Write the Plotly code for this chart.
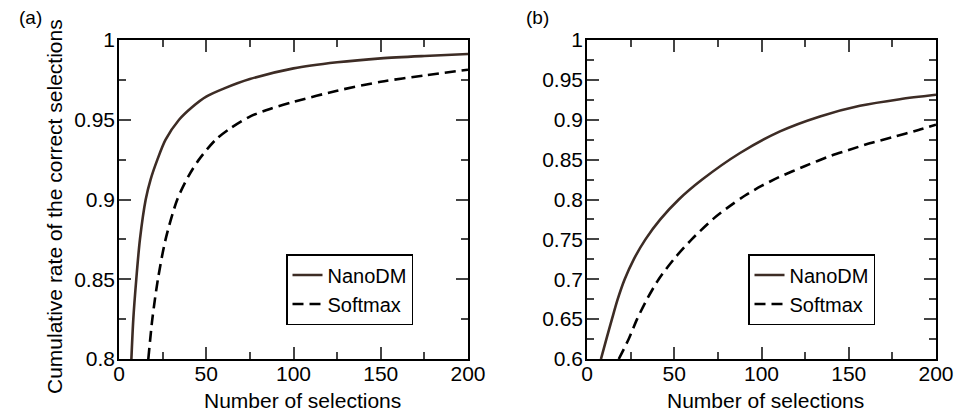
import plotly.graph_objects as go

# ---- data ----
a_nano_x = [7.1, 8.2, 9.9, 12.0, 15.3, 18.1, 22.0, 26.7, 34.4, 42, 50, 60, 75, 100, 125, 150, 175, 200]
a_nano_y = [0.8, 0.825, 0.85, 0.875, 0.9, 0.9125, 0.925, 0.9375, 0.95, 0.958, 0.9645, 0.9695, 0.9755, 0.9822, 0.986, 0.9885, 0.990, 0.9912]
a_soft_x = [16.8, 19.1, 22.3, 26.7, 33.4, 40, 45.8, 55.4, 63.6, 75, 86.5, 100, 125, 150, 175, 200]
a_soft_y = [0.8, 0.825, 0.85, 0.875, 0.9, 0.915, 0.925, 0.9375, 0.9445, 0.952, 0.9568, 0.9612, 0.9682, 0.9738, 0.9778, 0.9814]

b_nano_x = [8.0, 11.1, 14.3, 17.6, 21.6, 26.8, 33.5, 42, 52.6, 66, 87.7, 110.6, 133.5, 156.4, 179.3, 200]
b_nano_y = [0.6, 0.625, 0.65, 0.675, 0.7, 0.725, 0.75, 0.775, 0.8, 0.825, 0.8583, 0.8854, 0.9042, 0.9175, 0.9258, 0.9313]
b_soft_x = [18.2, 23.9, 28.7, 34.4, 41.1, 49.7, 60, 72.5, 82, 90.6, 100, 110, 125, 140, 150, 162, 175, 190, 200]
b_soft_y = [0.6, 0.625, 0.65, 0.675, 0.7, 0.725, 0.75, 0.776, 0.792, 0.805, 0.817, 0.828, 0.842, 0.855, 0.862, 0.8705, 0.878, 0.8872, 0.8938]

x_ticks = [0, 50, 100, 150, 200]
x_ticktext = ["0", "50", "100", "150", "200"]
a_yticks = [0.8, 0.85, 0.9, 0.95, 1.0]
a_yticktext = ["0.8", "0.85", "0.9", "0.95", "1"]
b_yticks = [0.6, 0.65, 0.7, 0.75, 0.8, 0.85, 0.9, 0.95, 1.0]
b_yticktext = ["0.6", "0.65", "0.7", "0.75", "0.8", "0.85", "0.9", "0.95", "1"]

series_names = ["NanoDM", "Softmax"]
x_title = "Number of selections"
y_title = "Cumulative rate of the correct selections"
panel_labels = ["(a)", "(b)"]

FONT = "Liberation Sans, Arial, Helvetica, sans-serif"
NANO_COLOR = "#3d2c25"
W, H = 958, 414

fig = go.Figure()
fig.add_trace(go.Scatter(x=a_nano_x, y=a_nano_y, mode="lines", name=series_names[0],
                         line=dict(color=NANO_COLOR, width=2.6, shape="spline", smoothing=0.8),
                         xaxis="x", yaxis="y", legend="legend"))
fig.add_trace(go.Scatter(x=a_soft_x, y=a_soft_y, mode="lines", name=series_names[1],
                         line=dict(color="black", width=2.6, dash="11px,6px", shape="spline", smoothing=0.8),
                         xaxis="x", yaxis="y", legend="legend"))
fig.add_trace(go.Scatter(x=b_nano_x, y=b_nano_y, mode="lines", name=series_names[0],
                         line=dict(color=NANO_COLOR, width=2.6, shape="spline", smoothing=0.8),
                         xaxis="x2", yaxis="y2", legend="legend2"))
fig.add_trace(go.Scatter(x=b_soft_x, y=b_soft_y, mode="lines", name=series_names[1],
                         line=dict(color="black", width=2.6, dash="11px,6px", shape="spline", smoothing=0.8),
                         xaxis="x2", yaxis="y2", legend="legend2"))

def px_x(p):
    return p / W

def px_y(p):
    return 1 - p / H

ydom = [px_y(359), px_y(40)]
common = dict(showline=True, linecolor="black", linewidth=1.5, mirror="allticks",
              ticks="inside", ticklen=12, tickwidth=1.5, tickcolor="#444",
              showgrid=False, zeroline=False, automargin=False,
              tickfont=dict(family=FONT, size=21, color="black"),
              minor=dict(ticks="inside", ticklen=7, tickwidth=1.5, tickcolor="#444", showgrid=False))

fig.update_layout(
    template="none",
    width=W, height=H,
    margin=dict(l=0, r=0, t=0, b=0, pad=0, autoexpand=False),
    paper_bgcolor="white", plot_bgcolor="white",
    font=dict(family=FONT, size=20, color="black"),
    xaxis=dict(domain=[px_x(119), px_x(468)], range=[0, 200], anchor="y",
               tickvals=x_ticks, ticktext=x_ticktext, ticklabelstandoff=-5, **common),
    yaxis=dict(domain=ydom, range=[0.8, 1.0], anchor="x",
               tickvals=a_yticks, ticktext=a_yticktext, ticklabelstandoff=-2, **common),
    xaxis2=dict(domain=[px_x(587), px_x(936)], range=[0, 200], anchor="y2",
                tickvals=x_ticks, ticktext=x_ticktext, ticklabelstandoff=-5, **common),
    yaxis2=dict(domain=ydom, range=[0.6, 1.0], anchor="x2",
                tickvals=b_yticks, ticktext=b_yticktext, ticklabelstandoff=-2, **common),
    legend=dict(x=px_x(286), y=px_y(254), xanchor="left", yanchor="top",
                bgcolor="white", bordercolor="black", borderwidth=1.5,
                font=dict(family=FONT, size=20, color="black"),
                entrywidth=100, tracegroupgap=0),
    legend2=dict(x=px_x(748), y=px_y(254), xanchor="left", yanchor="top",
                 bgcolor="white", bordercolor="black", borderwidth=1.5,
                 font=dict(family=FONT, size=20, color="black"),
                 entrywidth=100, tracegroupgap=0),
    showlegend=True,
)

fig.update_xaxes(minor_dtick=25, minor_tick0=0)
fig.layout.yaxis.minor.dtick = 0.025
fig.layout.yaxis.minor.tick0 = 0.8
fig.layout.yaxis2.minor.dtick = 0.025
fig.layout.yaxis2.minor.tick0 = 0.6

annotations = [
    dict(text=x_title, x=px_x(302), y=px_y(400), xref="paper", yref="paper",
         showarrow=False, font=dict(family=FONT, size=21), xanchor="center", yanchor="middle"),
    dict(text=x_title, x=px_x(765), y=px_y(400), xref="paper", yref="paper",
         showarrow=False, font=dict(family=FONT, size=21), xanchor="center", yanchor="middle"),
    dict(text=y_title, x=px_x(54), y=px_y(207), xref="paper", yref="paper", textangle=-90,
         showarrow=False, font=dict(family=FONT, size=21), xanchor="center", yanchor="middle"),
    dict(text=panel_labels[0], x=px_x(30), y=px_y(18), xref="paper", yref="paper",
         showarrow=False, font=dict(family=FONT, size=19), xanchor="center", yanchor="middle"),
    dict(text=panel_labels[1], x=px_x(537), y=px_y(18), xref="paper", yref="paper",
         showarrow=False, font=dict(family=FONT, size=19), xanchor="center", yanchor="middle"),
]
fig.update_layout(annotations=annotations)

fig.write_html("out.html")
